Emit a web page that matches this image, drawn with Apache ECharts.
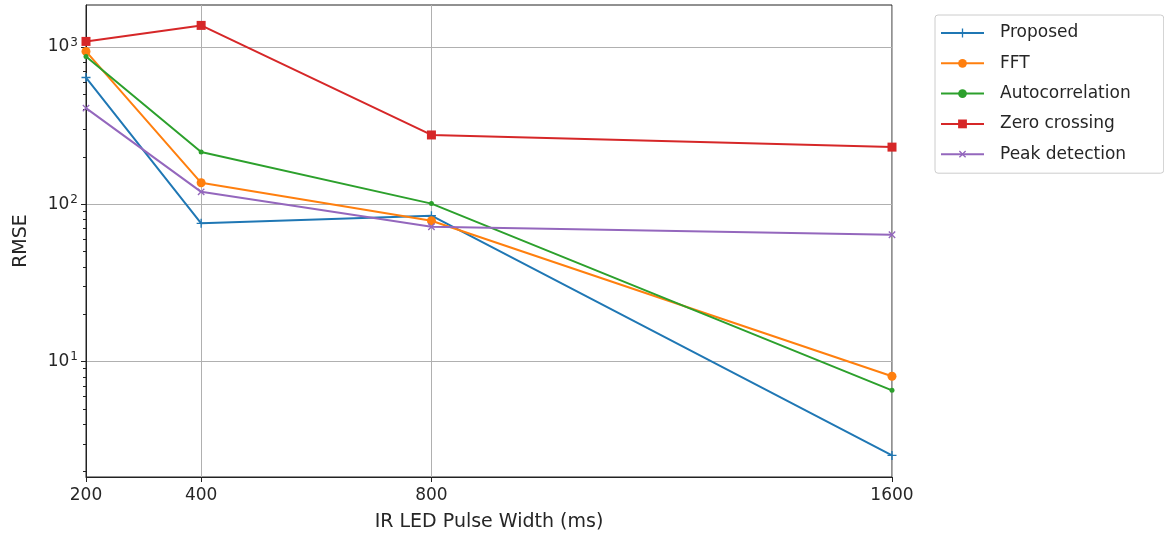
<!DOCTYPE html>
<html><head><meta charset="utf-8">
<script src="https://cdn.jsdelivr.net/npm/echarts@6/dist/echarts.min.js"></script>
<style>html,body{margin:0;padding:0;background:#fff}#c{width:1164px;height:537px}</style>
</head><body><div id="c"></div>
<script>
const pulseWidths = [200, 400, 800, 1600];
const proposed = [640, 75.7, 84.6, 2.53];
const fft = [938, 137, 78.6, 8.06];
const autocorrelation = [871, 215, 101, 6.56];
const zeroCrossing = [1086, 1373, 276, 231];
const peakDetection = [409, 120, 72, 64];
const xTicks = [200, 400, 800, 1600];
const yMajorTicks = [10, 100, 1000];
const yMinorTicks = [2,3,4,5,6,7,8,9,20,30,40,50,60,70,80,90,200,300,400,500,600,700,800,900];
const yMin = 1.844, yMax = 1851;

const FONT = 'DejaVu Sans';
const crossPath = 'path://M-0.15,-1H0.15V-0.15H1V0.15H0.15V1H-0.15V0.15H-1V-0.15H-0.15Z';
const pairs = arr => pulseWidths.map((x, i) => [x, arr[i]]);

function mk(name, data, color, symbol, size, rot) {
  return {
    name, type: 'line', data: pairs(data), color,
    symbol, symbolSize: size, symbolRotate: rot || 0, showSymbol: true,
    lineStyle: { width: 2, color },
    itemStyle: { color, borderWidth: 0 },
    clip: true, z: 3
  };
}

const chart = echarts.init(document.getElementById('c'), null, { renderer: 'canvas' });
chart.setOption({
  animation: false,
  textStyle: { fontFamily: FONT },
  grid: { left: 86, top: 5, right: 272, bottom: 60, show: true, borderColor: '#222', borderWidth: 1, backgroundColor: 'transparent' },
  legend: {
    orient: 'vertical', left: 935, top: 15,
    padding: [8, 33, 9, 5],
    itemWidth: 43, itemHeight: 11, itemGap: 10.3,
    backgroundColor: 'rgba(255,255,255,0.8)',
    borderColor: '#cccccc', borderWidth: 1, borderRadius: 3,
    textStyle: { fontFamily: FONT, fontSize: 17, color: '#262626', lineHeight: 20, padding: [0, 0, 0, 11] },
    data: ['Proposed', 'FFT', 'Autocorrelation', 'Zero crossing', 'Peak detection']
  },
  xAxis: {
    type: 'value', min: 200, max: 1600,
    name: 'IR LED Pulse Width (ms)', nameLocation: 'middle', nameGap: 36,
    nameTextStyle: { fontFamily: FONT, fontSize: 19, color: '#262626' },
    axisLine: { show: true, lineStyle: { color: '#222', width: 1 } },
    axisTick: { show: true, length: 5, lineStyle: { color: '#222' }, customValues: xTicks },
    axisLabel: { customValues: xTicks, formatter: v => String(v), fontFamily: FONT, fontSize: 17, color: '#262626', margin: 10 },
    splitLine: { show: true, lineStyle: { color: '#b0b0b0', width: 1 } }
  },
  yAxis: [{
    type: 'log', logBase: 10, min: yMin, max: yMax,
    name: 'RMSE', nameLocation: 'middle', nameGap: 55,
    nameTextStyle: { fontFamily: FONT, fontSize: 19, color: '#262626' },
    axisLine: { show: true, lineStyle: { color: '#222', width: 1 } },
    axisTick: { show: true, length: 5, lineStyle: { color: '#222' }, customValues: yMajorTicks },
    axisLabel: {
      customValues: yMajorTicks, margin: 8,
      formatter: v => '{b|10}{s|' + Math.round(Math.log10(v)) + '}',
      rich: {
        b: { fontFamily: FONT, fontSize: 17, color: '#262626' },
        s: { fontFamily: FONT, fontSize: 12, color: '#262626', padding: [0, 0, 9, 1] }
      }
    },
    splitLine: { show: true, lineStyle: { color: '#b0b0b0', width: 1 } }
  }, {
    type: 'log', logBase: 10, min: yMin, max: yMax, position: 'left', offset: 0,
    axisLine: { show: false },
    axisTick: { show: true, length: 3, lineStyle: { color: '#222' }, customValues: yMinorTicks },
    axisLabel: { show: false },
    splitLine: { show: false }
  }],
  series: [
    mk('Proposed', proposed, '#1f77b4', crossPath, 9),
    mk('FFT', fft, '#ff7f0e', 'circle', 9),
    mk('Autocorrelation', autocorrelation, '#2ca02c', 'circle', 5),
    mk('Zero crossing', zeroCrossing, '#d62728', 'rect', 9),
    mk('Peak detection', peakDetection, '#9467bd', crossPath, 9, 45)
  ]
});
</script></body></html>
